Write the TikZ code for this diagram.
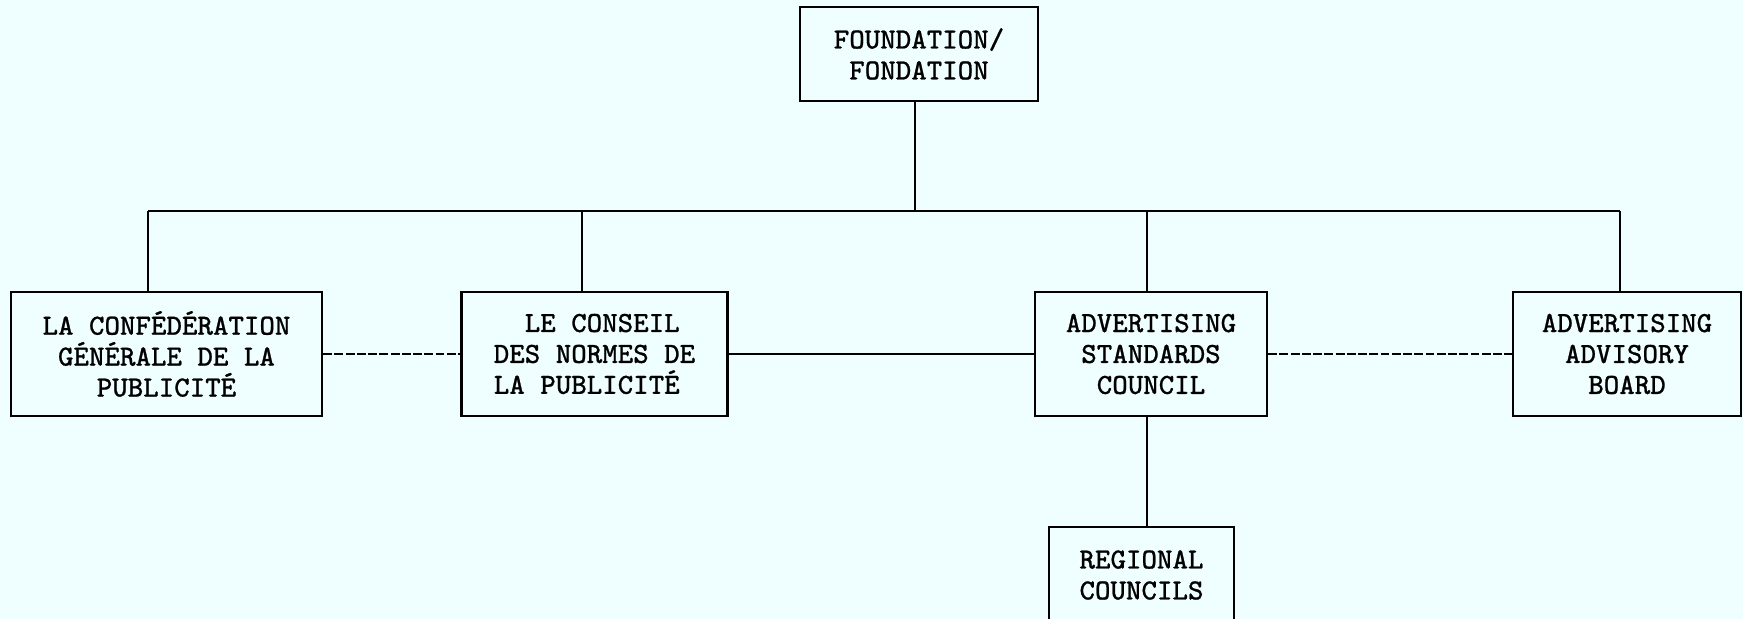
\documentclass[tikz,border=0pt]{standalone}
\usepackage{fontspec}
\newfontfamily\typer{Latin Modern Mono}[FakeBold=0.8]
\usepackage{tikz}
\definecolor{paper}{RGB}{239,254,254}

\begin{document}
\begin{tikzpicture}[
    unit/.style={draw, line width=0.7pt, align=center, inner sep=0pt, font=\typer\fontsize{8.3}{8.8}\selectfont},
    row/.style={unit, minimum height=1.24cm},
    link/.style={line width=0.7pt},
    dlink/.style={line width=0.7pt, dash pattern=on 2.5pt off 0.7pt}
]
\path[fill=paper, use as bounding box] (0,0) rectangle (17.43,6.19);

\node[unit, minimum width=2.38cm, minimum height=0.94cm] (F) at (9.19,5.65) {FOUNDATION/\\FONDATION};
\node[row, minimum width=3.11cm] (CGP) at (1.665,2.65) {LA CONFÉDÉRATION\\GÉNÉRALE DE LA\\PUBLICITÉ};
\node[row, minimum width=2.66cm, align=left] (CNP) at (5.945,2.65) {\hphantom{XX}LE CONSEIL\\DES NORMES DE\\LA PUBLICITÉ};
\node[row, minimum width=2.32cm] (ASC) at (11.51,2.65) {ADVERTISING\\STANDARDS\\COUNCIL};
\node[row, minimum width=2.28cm] (AAB) at (16.27,2.65) {ADVERTISING\\ADVISORY\\BOARD};
\node[unit, minimum width=1.85cm, minimum height=0.96cm] (RC) at (11.415,0.44) {REGIONAL\\COUNCILS};

% bus
\coordinate (B0) at (9.15,4.08);
\coordinate (B1) at (1.48,4.08);
\coordinate (B2) at (5.82,4.08);
\coordinate (B3) at (11.47,4.08);
\coordinate (B4) at (16.20,4.08);

\draw[link] (B0 |- F.south) -- (B0);
\draw[link] (B1) -- (B4);
\draw[link] (B1) -- (B1 |- CGP.north);
\draw[link] (B2) -- (B2 |- CNP.north);
\draw[link] (B3) -- (B3 |- ASC.north);
\draw[link] (B4) -- (B4 |- AAB.north);

\draw[dlink] (CGP) -- (CNP);
\draw[link] (CNP) -- (ASC);
\draw[dlink] (ASC) -- (AAB);
\draw[link] (ASC.south -| B3) -- (RC.north -| B3);
\end{tikzpicture}
\end{document}
